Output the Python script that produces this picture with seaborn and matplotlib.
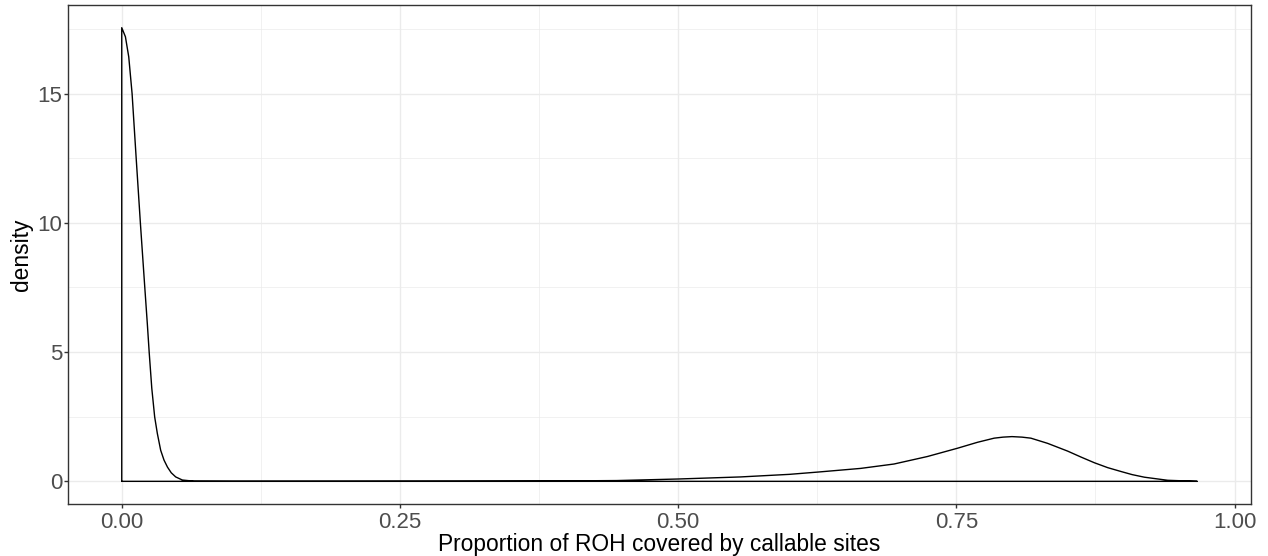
import matplotlib
matplotlib.use("Agg")
import matplotlib.pyplot as plt
import seaborn as sns
import pandas as pd
from matplotlib.ticker import MultipleLocator

# Estimated density of ROH coverage by callable sites
coverage = [0.0, 0.0033, 0.0063, 0.0093, 0.0129, 0.0168, 0.0207, 0.023, 0.0247,
            0.027, 0.0296, 0.032, 0.035, 0.038, 0.0411, 0.0445, 0.0485, 0.0545,
            0.065, 0.1, 0.2, 0.3, 0.376, 0.445, 0.5, 0.556, 0.6, 0.626, 0.664,
            0.694, 0.724, 0.751, 0.769, 0.784, 0.792, 0.8, 0.809, 0.817, 0.832,
            0.85, 0.862, 0.874, 0.886, 0.898, 0.908, 0.919, 0.94, 0.9665]
density = [17.55, 17.2, 16.42, 15.0, 12.55, 9.96, 7.51, 6.09, 4.97,
           3.6, 2.49, 1.85, 1.20, 0.82, 0.55, 0.33, 0.17, 0.05,
           0.005, 0.001, 0.002, 0.005, 0.01, 0.03, 0.09, 0.17, 0.27, 0.36, 0.50,
           0.67, 0.96, 1.28, 1.51, 1.67, 1.71, 1.73, 1.71, 1.67, 1.47,
           1.17, 0.94, 0.72, 0.53, 0.38, 0.26, 0.16, 0.04, 0.0]

x_ticks = [0.0, 0.25, 0.5, 0.75, 1.0]
x_tick_labels = ["0.00", "0.25", "0.50", "0.75", "1.00"]
y_ticks = [0, 5, 10, 15]

sns.set_theme(style="white")
plt.rcParams["font.family"] = ["Liberation Sans", "DejaVu Sans"]

# closed outline, like a density polygon
poly = pd.DataFrame({
    "x": [coverage[0]] + coverage + [coverage[-1], coverage[0]],
    "y": [0.0] + density + [0.0, 0.0],
})

fig = plt.figure(figsize=(12.68, 5.56), dpi=100)
ax = fig.add_axes([0.0536, 0.0935, 0.9330, 0.8975])

sns.lineplot(data=poly, x="x", y="y", sort=False, estimator=None,
             color="black", linewidth=1.0, ax=ax)

xr = max(coverage) - min(coverage)
ax.set_xlim(min(coverage) - 0.05 * xr, max(coverage) + 0.05 * xr)
yr = max(density)
ax.set_ylim(-0.05 * yr, yr * 1.05)

ax.set_xticks(x_ticks)
ax.set_xticklabels(x_tick_labels)
ax.set_yticks(y_ticks)
ax.xaxis.set_minor_locator(MultipleLocator(0.125))
ax.yaxis.set_minor_locator(MultipleLocator(2.5))

ax.grid(which="major", color="#EBEBEB", linewidth=1.0)
ax.grid(which="minor", color="#EBEBEB", linewidth=0.5)
ax.set_axisbelow(True)

for s in ax.spines.values():
    s.set_color("#333333")
    s.set_linewidth(1.0)
    s.set_visible(True)

ax.tick_params(axis="both", which="major", length=3, width=1.0, color="#333333",
               labelsize=16, labelcolor="#4D4D4D", direction="out",
               bottom=True, left=True)
ax.tick_params(axis="x", which="major", pad=3)
ax.tick_params(axis="y", which="major", pad=1)
ax.tick_params(axis="both", which="minor", length=0)

ax.set_xlabel("Proportion of ROH covered by callable sites", fontsize=16.4,
              color="black", labelpad=0)
ax.set_ylabel("density", fontsize=16.4, color="black", labelpad=3)

fig.savefig("out.png", dpi=100)
